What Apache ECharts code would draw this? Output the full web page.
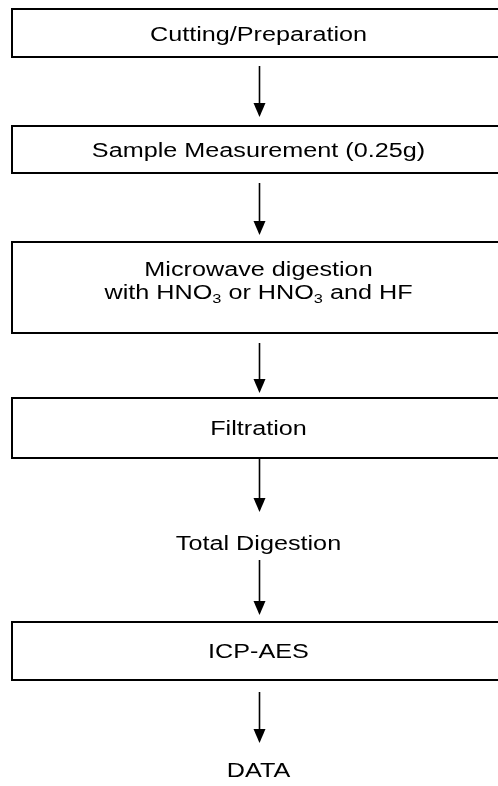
<!DOCTYPE html>
<html>
<head>
<meta charset="utf-8">
<script src="https://cdn.jsdelivr.net/npm/echarts@6/dist/echarts.min.js"></script>
<style>
html, body { margin: 0; padding: 0; background: #fff; }
#chart { width: 498px; height: 786px; }
</style>
</head>
<body>
<div id="chart"></div>
<script>
// flow steps (text), top to bottom
var steps = [
    "Cutting/Preparation",
    "Sample Measurement (0.25g)",
    "Microwave digestion\nwith HNO{sub|3} or HNO{sub|3} and HF",
    "Filtration",
    "Total Digestion",
    "ICP-AES",
    "DATA"
];
var boxed = [true, true, true, true, false, true, false];

// layout on a 498 x 786 page grid
var boxTop = [9, 126, 242, 398, null, 622, null];
var boxBottom = [57, 173, 333, 458, null, 680, null];
var labelY = [35, 151, 282, 429, 544, 652, 771];
var arrowFrom = [66, 183, 343, 459, 560, 692];
var arrowTo = [117, 235, 393, 512, 615, 743];
var midX = 259.5;

var dom = document.getElementById("chart");
var myChart = echarts.init(dom);

var boxData = [];
for (var i = 0; i < steps.length; i++) {
    if (boxed[i]) boxData.push([boxTop[i], boxBottom[i]]);
}
var labelData = [];
for (var i = 0; i < steps.length; i++) {
    labelData.push([labelY[i]]);
}
var arrowData = [];
for (var i = 0; i < arrowFrom.length; i++) {
    arrowData.push([arrowFrom[i], arrowTo[i]]);
}

var option = {
    backgroundColor: "#fff",
    animation: false,
    grid: { left: 0, right: 0, top: 0, bottom: 0 },
    xAxis: { type: "value", min: 0, max: 498, show: false },
    yAxis: { type: "value", min: 0, max: 786, inverse: true, show: false },
    series: [
        {
            type: "custom",
            data: boxData,
            renderItem: function (params, api) {
                var p1 = api.coord([12, api.value(0)]);
                var p2 = api.coord([505, api.value(1)]);
                return {
                    type: "rect",
                    shape: { x: p1[0], y: p1[1], width: p2[0] - p1[0], height: p2[1] - p1[1] },
                    style: { fill: "#fff", stroke: "#000", lineWidth: 2 }
                };
            }
        },
        {
            type: "custom",
            data: arrowData,
            renderItem: function (params, api) {
                var a = api.coord([midX, api.value(0)]);
                var b = api.coord([midX, api.value(1)]);
                return {
                    type: "group",
                    children: [
                        {
                            type: "line",
                            shape: { x1: a[0], y1: a[1], x2: b[0], y2: b[1] - 12 },
                            style: { stroke: "#000", lineWidth: 1.6 }
                        },
                        {
                            type: "polygon",
                            shape: { points: [[b[0] - 6, b[1] - 14], [b[0] + 6, b[1] - 14], [b[0], b[1]]] },
                            style: { fill: "#000" }
                        }
                    ]
                };
            }
        },
        {
            type: "custom",
            data: labelData,
            z: 5,
            renderItem: function (params, api) {
                var p = api.coord([midX - 1, api.value(0)]);
                return {
                    type: "text",
                    x: p[0],
                    y: p[1],
                    scaleX: 1.26,
                    style: {
                        text: steps[params.dataIndex],
                        fill: "#000",
                        fontFamily: "Liberation Sans",
                        fontSize: 20,
                        lineHeight: 23,
                        align: "center",
                        verticalAlign: "middle",
                        rich: {
                            sub: { fontSize: 13, lineHeight: 13, verticalAlign: "top", padding: [11, 0, 0, 0] }
                        }
                    }
                };
            }
        }
    ]
};
myChart.setOption(option);
</script>
</body>
</html>
